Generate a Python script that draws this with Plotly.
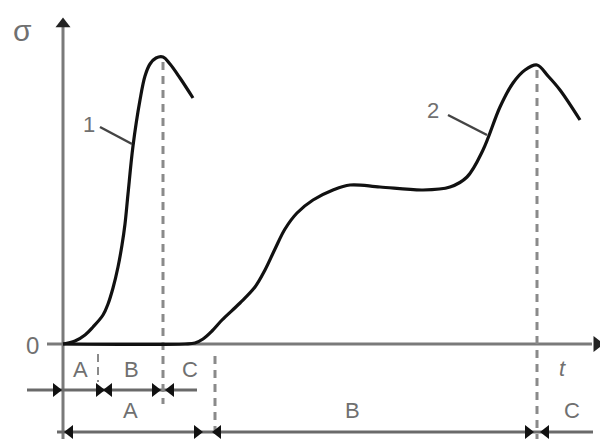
import plotly.graph_objects as go

# ---- data (t, sigma in chart units; x-axis at sigma=0, sigma-axis at t=63) ----
t_axis0 = 63
curve1_t = [63, 75, 85, 93, 103, 108, 113, 118, 122, 125, 128, 133, 140, 145, 150, 156, 163, 170, 180, 193]
curve1_s = [0, 3, 9, 17, 29, 40, 56, 77, 99, 120, 150, 198, 244, 268, 280, 286, 287, 280, 266, 246]

curve2_t = [63, 185, 195, 203, 212, 222, 240, 255, 265, 275, 285, 297, 313, 333, 350, 380, 423, 450, 467, 483, 500, 513, 525, 537, 548, 560, 580]
curve2_s = [0, 0, 1, 5, 13, 24, 41, 57, 74, 95, 115, 131, 144, 154, 159, 157, 154, 157, 167, 194, 237, 261, 274, 279, 268, 254, 224]

peak1_t, peak1_s = 163, 282
peak2_t, peak2_s = 537, 274
c_end_t = 215

dim1_s = -46
dim2_s = -88
dim1_range = [27, 197]
dim2_range = [57, 593]
dim1_right = [56, 99, 155]
dim1_left = [109, 171]
dim2_right = [197, 528]
dim2_left = [70, 218, 546]

upper_labels = ["A", "B", "C"]
upper_label_t = [80, 131, 190]
lower_labels = ["A", "B", "C"]
lower_label_t = [130, 352, 572]

AX = "#7a7a7a"
TX = "#707070"
FONT = "Liberation Sans, Arial, sans-serif"

fig = go.Figure()

def line(xs, ys, color=AX, width=3, dash=None, shape="linear"):
    fig.add_trace(go.Scatter(x=xs, y=ys, mode="lines",
                             line=dict(color=color, width=width, dash=dash, shape=shape),
                             hoverinfo="skip", showlegend=False))

# axes
line([t_axis0, t_axis0], [-95, 322], width=3)
line([47, 592], [0, 0], width=3)
# dimension lines
line(dim1_range, [dim1_s, dim1_s], color="#6a6a6a", width=3)
line(dim2_range, [dim2_s, dim2_s], color="#6a6a6a", width=3)

# dashed guides
line([peak1_t, peak1_t], [peak1_s, -60], color="#8a8a8a", width=3, dash="8px,6px")
line([peak2_t, peak2_t], [peak2_s, -95], color="#8a8a8a", width=3, dash="8px,6px")
line([c_end_t, c_end_t], [-12, -90], color="#8a8a8a", width=3, dash="8px,6px")
line([98, 98], [-10, -38], color="#8a8a8a", width=2, dash="8px,5px")

# curves
line(curve1_t, curve1_s, color="#111111", width=3.2, shape="spline")
line(curve2_t, curve2_s, color="#111111", width=3.2, shape="spline")

# leader lines
line([100, 132], [217, 200], color="#444444", width=2.5)
line([448, 487], [229, 209], color="#444444", width=2.5)

# arrowheads
fig.add_trace(go.Scatter(x=[t_axis0], y=[320], mode="markers",
                         marker=dict(symbol="triangle-up", size=13, color="#222"),
                         hoverinfo="skip", showlegend=False))
fig.add_trace(go.Scatter(x=[597], y=[0], mode="markers",
                         marker=dict(symbol="triangle-right", size=14, color="#222"),
                         hoverinfo="skip", showlegend=False))
fig.add_trace(go.Scatter(x=dim1_right + dim2_right,
                         y=[dim1_s] * len(dim1_right) + [dim2_s] * len(dim2_right),
                         mode="markers",
                         marker=dict(symbol="triangle-right", size=12, color="#111"),
                         hoverinfo="skip", showlegend=False))
fig.add_trace(go.Scatter(x=dim1_left + dim2_left,
                         y=[dim1_s] * len(dim1_left) + [dim2_s] * len(dim2_left),
                         mode="markers",
                         marker=dict(symbol="triangle-left", size=12, color="#111"),
                         hoverinfo="skip", showlegend=False))

ann = []
def txt(x, y, s, size=22, italic=False):
    ann.append(dict(x=x, y=y, text=("<i>%s</i>" % s) if italic else s, showarrow=False,
                    xanchor="center", yanchor="middle",
                    font=dict(family=FONT, size=size, color=TX)))

txt(22, 314, "σ", size=30)
txt(32, -1, "0", size=24)
txt(89, 220, "1", size=22)
txt(433, 234, "2", size=22)
for s, t in zip(upper_labels, upper_label_t):
    txt(t, -25, s, size=22)
for s, t in zip(lower_labels, lower_label_t):
    txt(t, -66, s, size=22)
txt(562, -24, "t", size=22, italic=True)

# page body has an 8px margin; figure is sized/ranged so chart units match page pixels
fig.update_layout(
    width=600, height=431,
    margin=dict(l=0, r=0, t=0, b=0),
    paper_bgcolor="white", plot_bgcolor="white",
    xaxis=dict(range=[8, 608], visible=False, fixedrange=True),
    yaxis=dict(range=[-95, 336], visible=False, fixedrange=True),
    annotations=ann,
    showlegend=False,
)
fig.write_html("out.html")
